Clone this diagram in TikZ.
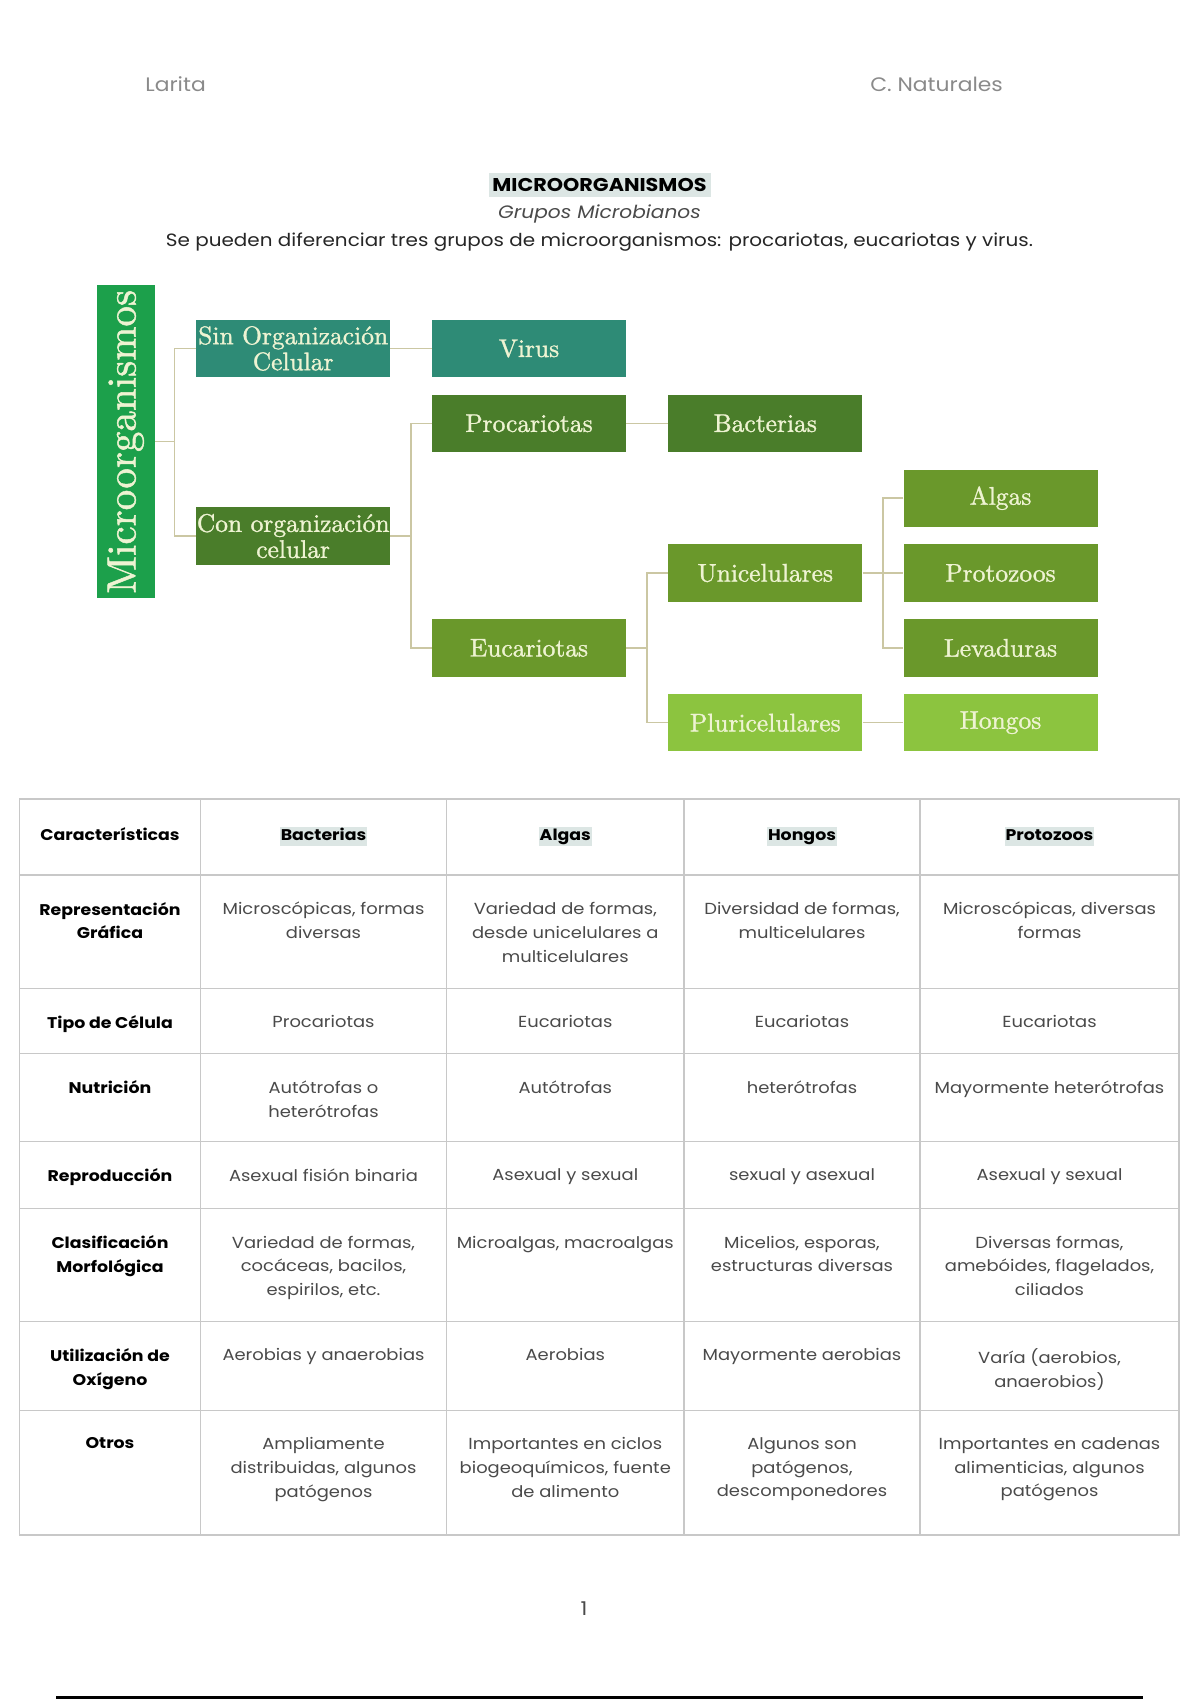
\documentclass[tikz,border=0pt]{standalone}
\usepackage{fontspec}
\newfontfamily\pop[FakeStretch=1.12]{Poppins}
\newfontfamily\boxfont{lmroman10-regular}[Extension=.otf, FakeBold=1.2]
\definecolor{micro}{HTML}{1CA04B}
\definecolor{teal2}{HTML}{2E8B76}
\definecolor{dkgreen}{HTML}{4A7D2A}
\definecolor{olive2}{HTML}{6A982B}
\definecolor{ltgreen}{HTML}{8CC43F}
\definecolor{boxtext}{HTML}{EEF3D2}
\definecolor{linkc}{HTML}{CBC7A3}
\definecolor{gridc}{HTML}{C8C8C8}
\definecolor{hl}{HTML}{DCE6E4}
\definecolor{celltext}{HTML}{4A4A4A}
\definecolor{headgray}{HTML}{8A8A8A}
\begin{document}
\begin{tikzpicture}[x=1pt,y=-1pt,
  box/.style={rectangle, minimum width=194pt, minimum height=57.4pt, inner sep=0pt,
    text=boxtext, font=\boxfont\fontsize{25.5}{26}\selectfont, align=center},
  link/.style={draw=linkc, line width=1.5pt},
  cell/.style={anchor=north, align=center, font=\pop\fontsize{16}{23.8}\selectfont, text=celltext, inner sep=0pt},
  lcell/.style={cell, font=\pop\bfseries\fontsize{15.5}{23.8}\selectfont, text=black},
  hcell/.style={anchor=center, font=\pop\bfseries\fontsize{15.5}{20}\selectfont, text=black, inner xsep=1pt, inner ysep=0pt, text height=14pt, text depth=5pt},
  hlcell/.style={hcell, fill=hl}]
\useasboundingbox (0,0) rectangle (1200,1700);
\fill[white] (0,0) rectangle (1200,1700);

% page header
\node[font=\pop\fontsize{19.5}{22}\selectfont, text=headgray] (hl) at (175.6,84.6) {Larita};
\node[font=\pop\fontsize{19.5}{22}\selectfont, text=headgray] (hr) at (936.6,84.6) {C. Naturales};

% title
\fill[hl] (489,173) rectangle (711,197);
\node[font=\pop\bfseries\fontsize{18.5}{20}\selectfont] (title) at (599.5,185.4) {MICROORGANISMOS};
\node[font=\pop\itshape\fontsize{18}{20}\selectfont, text=celltext] (sub) at (599.5,213.5) {Grupos Microbianos};
\node[font=\pop\fontsize{17.8}{20}\selectfont, text=black!85] (intro) at (599.5,241.7) {Se pueden diferenciar tres grupos de microorganismos: procariotas, eucariotas y virus.};

% diagram
\node[box, fill=micro, rotate=90, minimum width=313.4pt, minimum height=58.5pt, font=\boxfont\fontsize{41}{44}\selectfont] (micro) at (125.75,441.7) {Microorganismos};
\node[box, fill=teal2] (sin) at (293.2,348.5) {Sin Organización\\Celular};
\node[box, fill=teal2] (virus) at (529,348.5) {Virus};
\node[box, fill=dkgreen] (proc) at (529,423.3) {Procariotas};
\node[box, fill=dkgreen] (bact) at (765.3,423.3) {Bacterias};
\node[box, fill=dkgreen] (con) at (293.2,536) {Con organización\\celular};
\node[box, fill=olive2] (algas) at (1000.5,498.2) {Algas};
\node[box, fill=olive2] (uni) at (765.3,573) {Unicelulares};
\node[box, fill=olive2] (proto) at (1000.5,573) {Protozoos};
\node[box, fill=olive2] (euc) at (529,647.9) {Eucariotas};
\node[box, fill=olive2] (lev) at (1000.5,647.9) {Levaduras};
\node[box, fill=ltgreen] (pluri) at (765.3,722.7) {Pluricelulares};
\node[box, fill=ltgreen] (hongos) at (1000.5,722.7) {Hongos};

\draw[link] (micro.south) -- ++(19.5,0) coordinate (b1);
\draw[link] (sin.west) -| (b1) |- (con.west);
\draw[link] (sin.east) -- (virus.west);
\draw[link] (con.east) -- ++(20.6,0) coordinate (b2);
\draw[link] (proc.west) -| (b2) |- (euc.west);
\draw[link] (proc.east) -- (bact.west);
\draw[link] (euc.east) -- ++(20.6,0) coordinate (b3);
\draw[link] (uni.west) -| (b3) |- (pluri.west);
\draw[link] (uni.east) -- ++(20.6,0) coordinate (b4);
\draw[link] (algas.west) -| (b4) |- (lev.west);
\draw[link] (b4) -- (proto.west);
\draw[link] (pluri.east) -- (hongos.west);

% table grid
\draw[gridc, line width=1.5pt] (19.5,799) rectangle (1179,1535);
\foreach \x in {200.5,446.6,684,920} \draw[gridc, line width=1.5pt] (\x,799) -- (\x,1535);
\foreach \y in {875,988.6,1053.6,1141.5,1208.7,1321.4,1410.3} \draw[gridc, line width=1.5pt] (19.5,\y) -- (1179,\y);

% header row
\node[hcell] (h0) at (110,836) {Características};
\node[hlcell] (h1) at (323.5,836) {Bacterias};
\node[hlcell] (h2) at (565.3,836) {Algas};
\node[hlcell] (h3) at (802,836) {Hongos};
\node[hlcell] (h4) at (1049.5,836) {Protozoos};

% row 1
\node[lcell] (r1c0) at (110,902) {Representación\\Gráfica};
\node[cell] (r1c1) at (323.5,902) {Microscópicas, formas\\diversas};
\node[cell] (r1c2) at (565.3,902) {Variedad de formas,\\desde unicelulares a\\multicelulares};
\node[cell] (r1c3) at (802,902) {Diversidad de formas,\\multicelulares};
\node[cell] (r1c4) at (1049.5,902) {Microscópicas, diversas\\formas};
% row 2
\node[lcell] (r2c0) at (110,1015.6) {Tipo de Célula};
\node[cell] (r2c1) at (323.5,1015.6) {Procariotas};
\node[cell] (r2c2) at (565.3,1015.6) {Eucariotas};
\node[cell] (r2c3) at (802,1015.6) {Eucariotas};
\node[cell] (r2c4) at (1049.5,1015.6) {Eucariotas};
% row 3
\node[lcell] (r3c0) at (110,1080.6) {Nutrición};
\node[cell] (r3c1) at (323.5,1080.6) {Autótrofas o\\heterótrofas};
\node[cell] (r3c2) at (565.3,1080.6) {Autótrofas};
\node[cell] (r3c3) at (802,1080.6) {heterótrofas};
\node[cell] (r3c4) at (1049.5,1080.6) {Mayormente heterótrofas};
% row 4
\node[lcell] (r4c0) at (110,1168.5) {Reproducción};
\node[cell] (r4c1) at (323.5,1168.5) {Asexual fisión binaria};
\node[cell] (r4c2) at (565.3,1168.5) {Asexual y sexual};
\node[cell] (r4c3) at (802,1168.5) {sexual y asexual};
\node[cell] (r4c4) at (1049.5,1168.5) {Asexual y sexual};
% row 5
\node[lcell] (r5c0) at (110,1235.7) {Clasificación\\Morfológica};
\node[cell] (r5c1) at (323.5,1235.7) {Variedad de formas,\\cocáceas, bacilos,\\espirilos, etc.};
\node[cell] (r5c2) at (565.3,1235.7) {Microalgas, macroalgas};
\node[cell] (r5c3) at (802,1235.7) {Micelios, esporas,\\estructuras diversas};
\node[cell] (r5c4) at (1049.5,1235.7) {Diversas formas,\\amebóides, flagelados,\\ciliados};
% row 6
\node[lcell] (r6c0) at (110,1348.4) {Utilización de\\Oxígeno};
\node[cell] (r6c1) at (323.5,1348.4) {Aerobias y anaerobias};
\node[cell] (r6c2) at (565.3,1348.4) {Aerobias};
\node[cell] (r6c3) at (802,1348.4) {Mayormente aerobias};
\node[cell] (r6c4) at (1049.5,1348.4) {Varía (aerobios,\\anaerobios)};
% row 7
\node[lcell] (r7c0) at (110,1437.3) {Otros};
\node[cell] (r7c1) at (323.5,1437.3) {Ampliamente\\distribuidas, algunos\\patógenos};
\node[cell] (r7c2) at (565.3,1437.3) {Importantes en ciclos\\biogeoquímicos, fuente\\de alimento};
\node[cell] (r7c3) at (802,1437.3) {Algunos son\\patógenos,\\descomponedores};
\node[cell] (r7c4) at (1049.5,1437.3) {Importantes en cadenas\\alimenticias, algunos\\patógenos};

% footer
\node[font=\pop\fontsize{19}{22}\selectfont, text=celltext] (pnum) at (584,1609) {1};
\draw[black, line width=3pt] (56,1697.5) -- (1143,1697.5);
\end{tikzpicture}
\end{document}
